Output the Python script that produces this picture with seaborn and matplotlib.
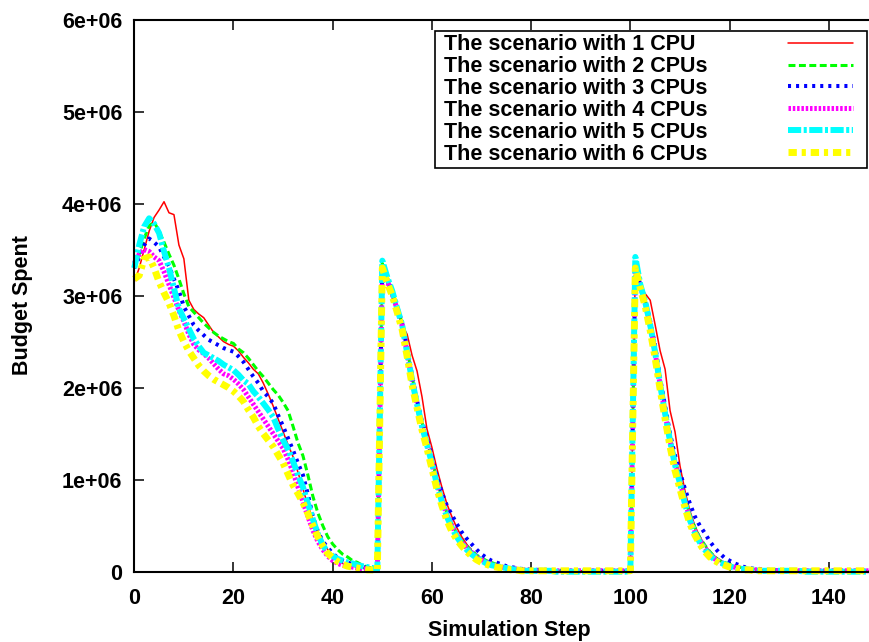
import numpy as np
import pandas as pd
import seaborn as sns
import matplotlib.pyplot as plt
from matplotlib.ticker import FuncFormatter
from matplotlib.legend_handler import HandlerLine2D

# budget spent per simulation step, in millions
steps = np.arange(149)

cpu1 = [
    3.15, 3.30, 3.50, 3.70, 3.85, 3.93, 4.02, 3.90, 3.88, 3.55,
    3.40, 2.95, 2.85, 2.80, 2.76, 2.68, 2.60, 2.55, 2.50, 2.47,
    2.45, 2.40, 2.33, 2.27, 2.20, 2.15, 2.05, 1.93, 1.80, 1.66,
    1.52, 1.38, 1.25, 1.08, 0.90, 0.72, 0.57, 0.43, 0.32, 0.24,
    0.17, 0.12, 0.09, 0.07, 0.06, 0.05, 0.04, 0.04, 0.03, 0.03,
    3.30, 3.12, 2.97, 2.82, 2.68, 2.58, 2.35, 2.18, 1.90, 1.55,
    1.35, 1.12, 0.92, 0.74, 0.60, 0.48, 0.38, 0.30, 0.23, 0.18,
    0.14, 0.11, 0.09, 0.07, 0.05, 0.04, 0.04, 0.03, 0.03, 0.02,
    0.02, 0.02, 0.02, 0.02, 0.02, 0.01, 0.01, 0.01, 0.01, 0.01,
    0.01, 0.01, 0.01, 0.01, 0.01, 0.01, 0.01, 0.01, 0.01, 0.01,
    0.01, 3.30, 3.10, 3.02, 2.95, 2.68, 2.40, 2.20, 1.75, 1.52,
    1.15, 0.88, 0.66, 0.50, 0.38, 0.29, 0.22, 0.17, 0.13, 0.10,
    0.08, 0.06, 0.05, 0.04, 0.03, 0.03, 0.02, 0.02, 0.02, 0.01,
    0.01, 0.01, 0.01, 0.01, 0.01, 0.01, 0.01, 0.01, 0.01, 0.01,
    0.01, 0.01, 0.01, 0.01, 0.01, 0.01, 0.01, 0.01, 0.01,
]
cpu2 = [
    3.30, 3.45, 3.62, 3.76, 3.80, 3.70, 3.58, 3.45, 3.33, 3.18,
    3.02, 2.88, 2.82, 2.76, 2.70, 2.65, 2.60, 2.56, 2.53, 2.50,
    2.48, 2.42, 2.38, 2.32, 2.25, 2.18, 2.12, 2.05, 1.98, 1.92,
    1.84, 1.75, 1.58, 1.40, 1.26, 1.05, 0.82, 0.64, 0.50, 0.38,
    0.30, 0.24, 0.19, 0.16, 0.12, 0.10, 0.07, 0.05, 0.04, 0.03,
    3.35, 3.18, 3.05, 2.87, 2.70, 2.42, 2.12, 1.85, 1.62, 1.43,
    1.22, 1.00, 0.80, 0.64, 0.52, 0.42, 0.34, 0.28, 0.23, 0.18,
    0.15, 0.12, 0.10, 0.08, 0.06, 0.05, 0.04, 0.03, 0.03, 0.02,
    0.02, 0.02, 0.02, 0.01, 0.01, 0.01, 0.01, 0.01, 0.01, 0.01,
    0.01, 0.01, 0.01, 0.01, 0.01, 0.01, 0.01, 0.01, 0.01, 0.01,
    0.01, 3.32, 3.12, 2.95, 2.72, 2.42, 2.08, 1.78, 1.48, 1.22,
    1.02, 0.80, 0.62, 0.48, 0.37, 0.29, 0.22, 0.16, 0.12, 0.10,
    0.08, 0.06, 0.05, 0.04, 0.03, 0.03, 0.02, 0.02, 0.02, 0.01,
    0.01, 0.01, 0.01, 0.01, 0.01, 0.01, 0.01, 0.01, 0.01, 0.01,
    0.01, 0.01, 0.01, 0.01, 0.01, 0.01, 0.01, 0.01, 0.01,
]
cpu3 = [
    3.30, 3.42, 3.55, 3.62, 3.58, 3.53, 3.42, 3.32, 3.18, 3.05,
    2.88, 2.78, 2.68, 2.62, 2.57, 2.52, 2.49, 2.46, 2.43, 2.41,
    2.39, 2.34, 2.28, 2.20, 2.12, 2.05, 1.96, 1.90, 1.83, 1.70,
    1.58, 1.45, 1.32, 1.18, 1.05, 0.84, 0.60, 0.44, 0.33, 0.26,
    0.20, 0.15, 0.12, 0.10, 0.08, 0.06, 0.05, 0.04, 0.03, 0.03,
    3.33, 3.18, 3.05, 2.88, 2.70, 2.43, 2.13, 1.86, 1.63, 1.45,
    1.25, 1.04, 0.86, 0.72, 0.62, 0.52, 0.43, 0.36, 0.30, 0.24,
    0.19, 0.15, 0.12, 0.10, 0.08, 0.06, 0.05, 0.04, 0.03, 0.03,
    0.02, 0.02, 0.02, 0.02, 0.01, 0.01, 0.01, 0.01, 0.01, 0.01,
    0.01, 0.01, 0.01, 0.01, 0.01, 0.01, 0.01, 0.01, 0.01, 0.01,
    0.01, 3.30, 3.12, 2.95, 2.72, 2.45, 2.10, 1.80, 1.50, 1.26,
    1.08, 0.90, 0.74, 0.60, 0.50, 0.42, 0.33, 0.26, 0.20, 0.15,
    0.12, 0.09, 0.07, 0.05, 0.04, 0.03, 0.03, 0.02, 0.02, 0.02,
    0.01, 0.01, 0.01, 0.01, 0.01, 0.01, 0.01, 0.01, 0.01, 0.01,
    0.01, 0.01, 0.01, 0.01, 0.01, 0.01, 0.01, 0.01, 0.01,
]
cpu4 = [
    3.35, 3.45, 3.50, 3.48, 3.42, 3.38, 3.26, 3.12, 2.98, 2.84,
    2.72, 2.58, 2.47, 2.41, 2.37, 2.32, 2.26, 2.20, 2.15, 2.13,
    2.09, 2.04, 1.98, 1.90, 1.82, 1.74, 1.66, 1.58, 1.50, 1.42,
    1.34, 1.22, 1.08, 0.92, 0.76, 0.60, 0.45, 0.33, 0.24, 0.17,
    0.12, 0.09, 0.07, 0.06, 0.05, 0.04, 0.03, 0.03, 0.02, 0.02,
    3.30, 3.16, 3.02, 2.85, 2.67, 2.38, 2.08, 1.82, 1.58, 1.40,
    1.20, 0.97, 0.78, 0.62, 0.50, 0.40, 0.32, 0.26, 0.21, 0.16,
    0.13, 0.10, 0.08, 0.06, 0.05, 0.04, 0.03, 0.03, 0.02, 0.02,
    0.01, 0.01, 0.01, 0.01, 0.01, 0.01, 0.01, 0.01, 0.01, 0.01,
    0.01, 0.01, 0.01, 0.01, 0.01, 0.01, 0.01, 0.01, 0.01, 0.01,
    0.01, 3.28, 3.10, 2.92, 2.68, 2.38, 2.03, 1.72, 1.42, 1.18,
    0.98, 0.76, 0.58, 0.44, 0.34, 0.26, 0.19, 0.14, 0.11, 0.08,
    0.06, 0.05, 0.04, 0.03, 0.02, 0.02, 0.02, 0.01, 0.01, 0.01,
    0.01, 0.01, 0.01, 0.01, 0.01, 0.01, 0.01, 0.01, 0.01, 0.01,
    0.01, 0.01, 0.01, 0.01, 0.01, 0.01, 0.01, 0.01, 0.01,
]
cpu5 = [
    3.30, 3.55, 3.75, 3.84, 3.78, 3.68, 3.48, 3.30, 3.08, 2.86,
    2.75, 2.64, 2.53, 2.45, 2.38, 2.35, 2.32, 2.29, 2.25, 2.22,
    2.19, 2.14, 2.08, 2.04, 1.96, 1.90, 1.83, 1.76, 1.68, 1.55,
    1.43, 1.33, 1.20, 1.05, 0.92, 0.74, 0.57, 0.41, 0.29, 0.21,
    0.17, 0.14, 0.12, 0.10, 0.09, 0.07, 0.06, 0.05, 0.04, 0.03,
    3.38, 3.20, 3.05, 2.86, 2.68, 2.38, 2.08, 1.82, 1.58, 1.38,
    1.18, 0.95, 0.76, 0.60, 0.48, 0.38, 0.30, 0.24, 0.19, 0.15,
    0.12, 0.09, 0.07, 0.06, 0.05, 0.04, 0.03, 0.02, 0.02, 0.01,
    0.01, 0.01, 0.01, 0.01, 0.01, 0.00, 0.00, 0.00, 0.00, 0.00,
    0.00, 0.00, 0.00, 0.00, 0.00, 0.00, 0.00, 0.00, 0.00, 0.00,
    0.01, 3.42, 3.12, 2.93, 2.68, 2.38, 2.03, 1.72, 1.42, 1.16,
    0.96, 0.74, 0.56, 0.42, 0.32, 0.24, 0.18, 0.13, 0.10, 0.08,
    0.06, 0.04, 0.03, 0.03, 0.02, 0.02, 0.01, 0.01, 0.01, 0.01,
    0.01, 0.01, 0.01, 0.01, 0.01, 0.00, 0.00, 0.00, 0.00, 0.00,
    0.00, 0.00, 0.00, 0.00, 0.00, 0.00, 0.00, 0.00, 0.00,
]
cpu6 = [
    3.18, 3.22, 3.40, 3.42, 3.30, 3.15, 3.03, 2.92, 2.78, 2.62,
    2.50, 2.40, 2.32, 2.24, 2.18, 2.13, 2.09, 2.06, 2.03, 2.00,
    1.96, 1.91, 1.85, 1.76, 1.68, 1.58, 1.50, 1.43, 1.36, 1.27,
    1.18, 1.06, 0.94, 0.85, 0.75, 0.63, 0.50, 0.38, 0.28, 0.20,
    0.15, 0.11, 0.08, 0.06, 0.05, 0.04, 0.03, 0.02, 0.02, 0.02,
    3.30, 3.14, 3.00, 2.82, 2.63, 2.34, 2.03, 1.78, 1.54, 1.34,
    1.12, 0.90, 0.72, 0.56, 0.44, 0.35, 0.28, 0.22, 0.17, 0.13,
    0.10, 0.08, 0.06, 0.05, 0.04, 0.03, 0.02, 0.02, 0.01, 0.01,
    0.01, 0.01, 0.01, 0.01, 0.01, 0.01, 0.01, 0.01, 0.01, 0.01,
    0.01, 0.01, 0.01, 0.01, 0.01, 0.01, 0.01, 0.01, 0.01, 0.01,
    0.01, 3.30, 3.08, 2.88, 2.62, 2.32, 1.98, 1.66, 1.36, 1.10,
    0.90, 0.70, 0.52, 0.40, 0.30, 0.22, 0.16, 0.12, 0.09, 0.07,
    0.05, 0.04, 0.03, 0.02, 0.02, 0.01, 0.01, 0.01, 0.01, 0.01,
    0.01, 0.01, 0.01, 0.01, 0.01, 0.01, 0.01, 0.01, 0.01, 0.01,
    0.01, 0.01, 0.01, 0.01, 0.01, 0.01, 0.01, 0.01, 0.01,
]

labels = [
    "The scenario with 1 CPU",
    "The scenario with 2 CPUs",
    "The scenario with 3 CPUs",
    "The scenario with 4 CPUs",
    "The scenario with 5 CPUs",
    "The scenario with 6 CPUs",
]
colors = ["#ff0000", "#00ff00", "#0000ff", "#ff00ff", "#00ffff", "#ffff00"]
widths = [1.1, 2.2, 2.9, 3.6, 4.3, 5.0]
dash_styles = ["", (5, 2.5), (2.2, 3.6), (1.8, 1.3), (9.5, 1.8, 2.2, 1.8), (6, 3.5, 3, 3.5)]

df = pd.DataFrame({"step": steps, **dict(zip(labels, [cpu1, cpu2, cpu3, cpu4, cpu5, cpu6]))})
df = df.melt(id_vars="step", var_name="scenario", value_name="budget")
df["budget"] = df["budget"] * 1e6

sns.set_style("white")
plt.rcParams["font.family"] = ["Liberation Sans", "DejaVu Sans"]
plt.rcParams["font.weight"] = "bold"
plt.rcParams["lines.scale_dashes"] = False
for key in ["text.color", "axes.labelcolor", "xtick.color", "ytick.color", "axes.edgecolor"]:
    plt.rcParams[key] = "black"

fig = plt.figure(figsize=(8.69, 6.42), dpi=100)
ax = fig.add_axes([0.1545, 0.1095, 0.8455, 0.8601])

sns.lineplot(
    data=df,
    x="step",
    y="budget",
    hue="scenario",
    style="scenario",
    size="scenario",
    hue_order=labels,
    style_order=labels,
    size_order=labels,
    palette=dict(zip(labels, colors)),
    dashes=dict(zip(labels, dash_styles)),
    sizes=dict(zip(labels, widths)),
    estimator=None,
    errorbar=None,
    legend=False,
    ax=ax,
)
for line in ax.get_lines():
    line.set_clip_on(False)

ax.set_xlim(0, 148.1)
ax.set_ylim(0, 6e6)
ax.set_xticks(range(0, 141, 20))
ax.set_yticks(np.arange(0, 6.1e6, 1e6))
ax.yaxis.set_major_formatter(FuncFormatter(lambda v, p: "0" if v == 0 else f"{v:.0e}"))

ax.tick_params(direction="in", length=7.2, width=1.1, top=True, bottom=True,
               left=True, right=False, labelsize=15.5)
ax.tick_params(axis="y", pad=8.6)
ax.tick_params(axis="x", pad=12)
for side in ["left", "bottom", "top"]:
    ax.spines[side].set_linewidth(1.5)
ax.spines["right"].set_visible(False)

ax.set_xlabel("Simulation Step", fontsize=15.5, fontweight="bold")
ax.set_ylabel("Budget Spent", fontsize=15.5, fontweight="bold")
ax.xaxis.set_label_coords(0.511, -0.0875)
ax.yaxis.set_label_coords(-0.138, 0.483)


class KeySample(HandlerLine2D):
    # leave some room between the sample line and the key border
    def get_xdata(self, legend, xdescent, ydescent, width, height, fontsize):
        return super().get_xdata(legend, xdescent, ydescent, width - 0.5 * fontsize, height, fontsize)


# gnuplot style key: text on the left, sample on the right
handles = ax.get_lines()[:6]
leg = ax.legend(
    handles,
    [" " + lab + ("  " if lab.endswith("CPU") else "") for lab in labels],
    handler_map={h: KeySample() for h in handles},
    loc="upper right",
    bbox_to_anchor=(867 / 869, 611 / 642),
    bbox_transform=fig.transFigure,
    markerfirst=False,
    fancybox=False,
    framealpha=1,
    edgecolor="black",
    borderaxespad=0,
    borderpad=0.15,
    labelspacing=0.04,
    handlelength=3.5,
    handletextpad=3.75,
    prop={"size": 15.5, "weight": "bold"},
)
leg.get_frame().set_linewidth(1.2)

fig.savefig("out.png", dpi=100)
